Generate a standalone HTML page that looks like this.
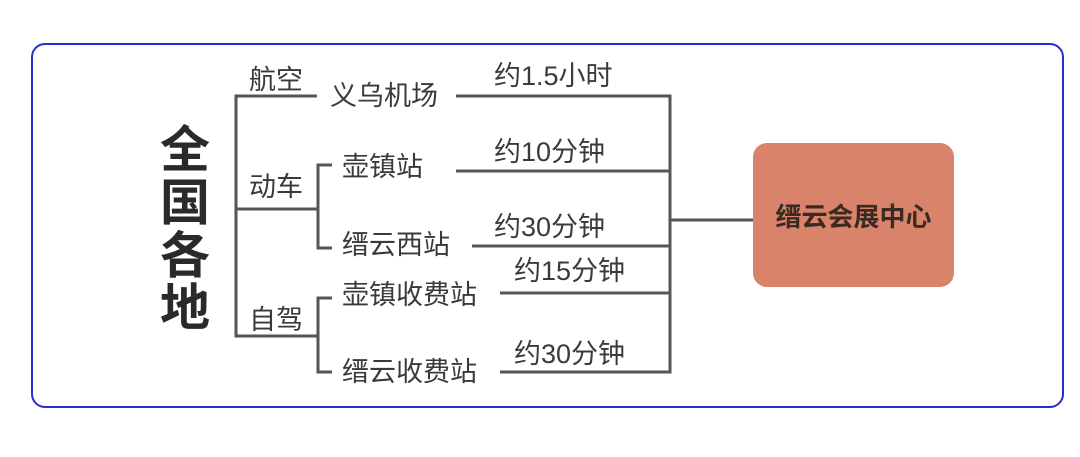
<!DOCTYPE html>
<html><head><meta charset="utf-8"><style>
body{margin:0;width:1080px;height:457px;background:#fff;overflow:hidden;font-family:"Liberation Sans","Noto Sans CJK SC",sans-serif;}
.frame{position:absolute;left:31px;top:43px;width:1029px;height:361px;border:2.5px solid #2b2bd0;border-radius:14px;}
.t{position:absolute;font-size:27px;color:#3a3a3a;line-height:1;white-space:nowrap;}
.big{position:absolute;left:160px;font-size:50px;font-weight:bold;color:#2a2a2a;line-height:1;}
.box{position:absolute;left:753px;top:143px;width:201px;height:144px;background:#d9836b;border-radius:14px;display:flex;align-items:center;justify-content:center;font-size:26px;font-weight:bold;color:#3a2a22;}
</style></head><body>
<div class="frame"></div>
<svg width="1080" height="457" style="position:absolute;left:0;top:0" fill="none" stroke="#555" stroke-width="3">
<path d="M317 96H236V336H318M236 209H318"/>
<path d="M332 165H318V248H332M332 298H318V372H332"/>
<path d="M456 96H670V372H500M456 171H670M472 246H670M500 293H670M670 220H753"/>
</svg>
<div class="big" style="top:125px">全</div>
<div class="big" style="top:178px">国</div>
<div class="big" style="top:231px">各</div>
<div class="big" style="top:283px">地</div>
<div class="t" style="left:249px;top:67px">航空</div>
<div class="t" style="left:249px;top:174px">动车</div>
<div class="t" style="left:249px;top:307px">自驾</div>
<div class="t" style="left:330px;top:83px">义乌机场</div>
<div class="t" style="left:342px;top:154px">壶镇站</div>
<div class="t" style="left:342px;top:232px">缙云西站</div>
<div class="t" style="left:342px;top:282px">壶镇收费站</div>
<div class="t" style="left:342px;top:359px">缙云收费站</div>
<div class="t" style="left:494px;top:63px">约1.5小时</div>
<div class="t" style="left:494px;top:139px">约10分钟</div>
<div class="t" style="left:494px;top:214px">约30分钟</div>
<div class="t" style="left:514px;top:258px">约15分钟</div>
<div class="t" style="left:514px;top:341px">约30分钟</div>
<div class="box">缙云会展中心</div>
</body></html>
